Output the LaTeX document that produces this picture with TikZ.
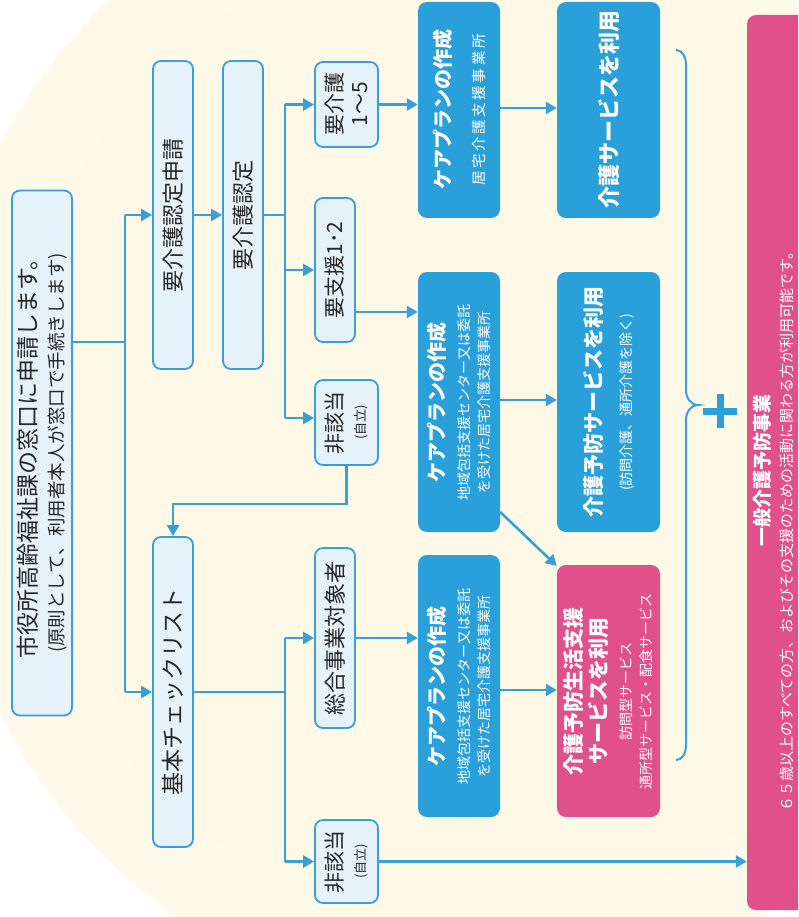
\documentclass[tikz,border=0pt]{standalone}
\usepackage{fontspec}
\setmainfont{Noto Sans CJK JP}
\usetikzlibrary{arrows.meta}
\definecolor{lineblue}{HTML}{3A9FD6}
\definecolor{lightfill}{HTML}{E6F2FA}
\definecolor{boxblue}{HTML}{29A0D9}
\definecolor{boxpink}{HTML}{E0508A}
\definecolor{creamc}{HTML}{FEF9E6}
\pgfdeclareradialshading{glow}{\pgfpoint{0bp}{0bp}}{color(0bp)=(creamc); color(20bp)=(creamc); color(42bp)=(white); color(50bp)=(white)}
\newcommand\myfs[2]{\fontsize{#1}{#2}\selectfont}
\tikzset{
 conn/.style={draw=lineblue, line width=2.6pt},
 arr/.style={conn, -{Triangle[length=11pt,width=12pt]}},
 lbox/.style={draw=lineblue, line width=1.8pt, fill=lightfill, rounded corners=8pt, rotate=90, inner sep=0pt, align=center, text=black!85},
 bbox/.style={fill=boxblue, rounded corners=9pt, rotate=90, inner sep=0pt, align=center, text=white},
 pbox/.style={fill=boxpink, rounded corners=9pt, rotate=90, inner sep=0pt, align=center, text=white},
 ptext/.style={rotate=90, inner sep=0pt, text=white},
}
\begin{document}
\begin{tikzpicture}[x=1pt,y=-1pt]
\useasboundingbox (0,0) rectangle (798,917);
\clip (0,0) rectangle (798,917);
\fill[white] (0,0) rectangle (798,917);
\shade[shading=glow] (470,430) ellipse (540 and 580);

% nodes
\node[lbox, minimum width=525pt, minimum height=60pt, font=\myfs{23}{27}] (n1) at (42,453) {{\myfs{23}{27}市役所高齢福祉課の窓口に申請します。}\\{\myfs{18.5}{21}(原則として、利用者本人が窓口で手続きします)}};
\node[lbox, minimum width=308pt, minimum height=40pt] (n2) at (173,215) {\myfs{22}{26}要介護認定申請};
\node[lbox, minimum width=308pt, minimum height=40pt] (n3) at (243,215) {\myfs{22}{26}要介護認定};
\node[lbox, minimum width=85pt, minimum height=63pt, font=\myfs{21}{25}] (n4) at (346.5,104.5) {{\myfs{21}{25}要介護}\\{\myfs{21}{25}1～5}};
\node[lbox, minimum width=144pt, minimum height=40pt] (n5) at (335,270) {\myfs{21}{24}要支援1･2};
\node[lbox, minimum width=85pt, minimum height=63pt, font=\myfs{21}{23}] (n6) at (346.5,422.5) {{\myfs{21}{23}非該当}\\{\myfs{13}{15}(自立)}};
\node[lbox, minimum width=310pt, minimum height=40pt] (n7) at (173,692) {\myfs{23}{26}基本チェックリスト};
\node[lbox, minimum width=180pt, minimum height=40pt] (n8) at (335,638) {\myfs{22}{26}総合事業対象者};
\node[lbox, minimum width=83pt, minimum height=63pt, font=\myfs{21}{23}] (n9) at (346.5,861.5) {{\myfs{21}{23}非該当}\\{\myfs{13}{15}(自立)}};

\node[bbox, minimum width=216pt, minimum height=82pt, font=\myfs{20}{30}] (n10) at (459,110) {{\bfseries\myfs{20}{24}ケアプランの作成}\\[4pt]{\myfs{14.5}{17}\addfontfeatures{LetterSpace=18}居宅介護支援事業所}};
\node[bbox, minimum width=216pt, minimum height=103pt] (n11) at (608.5,110) {{\bfseries\myfs{22}{26}介護サービスを利用}};
\node[bbox, minimum width=260pt, minimum height=82pt, font=\myfs{14}{20}] (n12) at (459,402) {{\bfseries\myfs{20}{24}ケアプランの作成}\\[5pt]{\myfs{14}{17}地域包括支援センター又は委託}\\{\myfs{14}{17}を受けた居宅介護支援事業所}};
\node[bbox, minimum width=260pt, minimum height=103pt, font=\myfs{21}{28}] (n13) at (608.5,402) {{\bfseries\myfs{21}{25}介護予防サービスを利用}\\[2pt]{\myfs{14}{17}(訪問介護、通所介護を除く)}};
\node[bbox, minimum width=262pt, minimum height=82pt, font=\myfs{14}{20}] (n14) at (459,686) {{\bfseries\myfs{20}{24}ケアプランの作成}\\[5pt]{\myfs{14}{17}地域包括支援センター又は委託}\\{\myfs{14}{17}を受けた居宅介護支援事業所}};
\node[pbox, minimum width=252pt, minimum height=103pt, font=\myfs{21}{25}] (n15) at (608.5,691) {{\bfseries\myfs{21}{24}介護予防生活支援}\\{\bfseries\myfs{21}{24}サービスを利用}\\{\myfs{14}{17}訪問型サービス}\\[-5pt]{\myfs{14}{17}通所型サービス・配食サービス}};
\node[pbox, minimum width=895pt, minimum height=65pt] (n16) at (779.5,462.5) {};
\node[ptext] (t16a) at (762,470) {\bfseries\myfs{19}{22}一般介護予防事業};
\node[ptext] (t16b) at (787,528) {\myfs{15}{18}６５歳以上のすべての方、およびその支援のための活動に関わる方が利用可能です。};

% connectors
\coordinate (t1a) at (125,215);
\coordinate (t1b) at (125,692);
\draw[conn] (n1.south |- 0,342) -- (125,342);
\draw[conn] (t1a) -- (t1b);
\draw[arr] (t1a) -- (n2.north);
\draw[arr] (t1b) -- (n7.north);
\draw[arr] (n2.south) -- (n3.north);
\coordinate (t2a) at (285,104.5);
\coordinate (t2b) at (285,418);
\draw[conn] (n3.south) -- (285,215);
\draw[conn] (t2a) -- (t2b);
\draw[arr] (t2a) -- (n4.north);
\draw[arr] (285,270) -- (n5.north);
\draw[arr] (t2b) -- (t2b -| n6.north);
\draw[arr] (n6.west) -- ++(0,38) -| (n7.east);
\coordinate (t3a) at (285,638);
\coordinate (t3b) at (285,861.5);
\draw[conn] (n7.south) -- (285,692);
\draw[conn] (t3a) -- (t3b);
\draw[arr] (t3a) -- (n8.north);
\draw[arr] (t3b) -- (n9.north);

\draw[arr] (n4.south) -- (n4.south -| n10.north);
\draw[arr] (n5.south |- 0,312) -- (n12.north |- 0,312);
\draw[arr] (n8.south) -- (n8.south -| n14.north);
\draw[arr] (n10.south |- 0,108) -- (n11.north |- 0,108);
\draw[arr] (n12.south |- 0,400) -- (n13.north |- 0,400);
\draw[arr] (n12.south |- 0,512) -- (n15.north |- 0,566);
\draw[arr] (n14.south |- 0,690) -- (n15.north |- 0,690);
\draw[arr] (n9.south) -- (n9.south -| n16.north);

% brace and plus
\draw[lineblue, line width=2pt] (676,50) to[out=0,in=90] (686,64) -- (686,390) to[out=-90,in=180] (698,405) to[out=180,in=90] (686,420) -- (686,746) to[out=-90,in=0] (676,760);
\draw[boxblue, line width=7pt] (703,411) -- (737,411) (720,394) -- (720,428);
\end{tikzpicture}
\end{document}
